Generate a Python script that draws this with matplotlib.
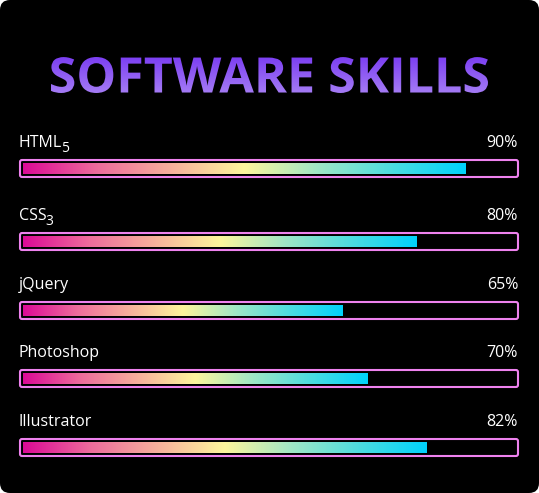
import matplotlib.pyplot as plt
import numpy as np
from matplotlib.patches import FancyBboxPatch, PathPatch
from matplotlib.textpath import TextPath
from matplotlib.font_manager import FontProperties
from matplotlib.colors import LinearSegmentedColormap
from matplotlib.transforms import Affine2D

plt.rcParams['font.family'] = ['Open Sans', 'DejaVu Sans']

title = 'SOFTWARE SKILLS'
skills = ['HTML', 'CSS', 'jQuery', 'Photoshop', 'Illustrator']
subscripts = ['5', '3', '', '', '']
percents = [90, 80, 65, 70, 82]
bar_tops = [160, 233, 302, 370, 439]

W, H = 539, 493
fig = plt.figure(figsize=(W / 100, H / 100), dpi=100)
fig.patch.set_facecolor('white')
ax = fig.add_axes([0, 0, 1, 1])
ax.set_xlim(0, W)
ax.set_ylim(H, 0)
ax.axis('off')

# black card with rounded corners
ax.add_patch(FancyBboxPatch((0, 0), W, H, boxstyle='round,pad=0,rounding_size=10',
                            facecolor='black', edgecolor='none', zorder=0))

# gradient title, fitted into its box
fp = FontProperties(family='Open Sans', weight='bold')
tp = TextPath((0, 0), title, size=50, prop=fp)
ext = tp.get_extents()
x0, x1, y0, y1 = 51, 488, 57, 93
tr = Affine2D().translate(-ext.x0, -ext.y0).scale((x1 - x0) / ext.width, -(y1 - y0) / ext.height) \
    .translate(x0, y1)
tpath = tr.transform_path(tp)
title_cmap = LinearSegmentedColormap.from_list('title', ['#7a3cf2', '#a67ef5'])
grad_v = np.linspace(0, 1, 64).reshape(-1, 1)
im = ax.imshow(grad_v, cmap=title_cmap, extent=(x0 - 2, x1 + 2, y1 + 2, y0 - 2), aspect='auto', zorder=2)
clip = PathPatch(tpath, facecolor='none', edgecolor='none', transform=ax.transData)
ax.add_patch(clip)
im.set_clip_path(clip)

bar_cmap = LinearSegmentedColormap.from_list('bar', ['#dc0a96', '#ee6c9c', '#f7b09c', '#fdf59c',
                                                     '#9fe6c6', '#4ddce0', '#00d2fc'])
grad_h = np.linspace(0, 1, 256).reshape(1, -1)

left, right = 20, 518
fill_left, fill_full = 22.5, 492
bar_h = 17
labels = []
for name, pct, top in zip(skills, percents, bar_tops):
    t = ax.text(19, top - 13, name, color='white', fontsize=11.5, ha='left', va='baseline')
    labels.append(t)
    ax.text(518, top - 13, '{}%'.format(pct), color='white', fontsize=11.5, ha='right', va='baseline')
    fill_right = fill_left + fill_full * pct / 100
    ax.imshow(grad_h, cmap=bar_cmap, extent=(fill_left, fill_right, top + bar_h - 3, top + 3),
              aspect='auto', zorder=2, interpolation='bilinear')
    ax.add_patch(FancyBboxPatch((left, top), right - left, bar_h, boxstyle='round,pad=0,rounding_size=2',
                                facecolor='none', edgecolor='#ee82ee', linewidth=1.5, zorder=3))

# subscripts placed right after the label text
fig.canvas.draw()
renderer = fig.canvas.get_renderer()
for t, sub, top in zip(labels, subscripts, bar_tops):
    if not sub:
        continue
    bb = t.get_window_extent(renderer)
    xd = ax.transData.inverted().transform((bb.x1, 0))[0]
    ax.text(xd - 1.5, top - 8, sub, color='white', fontsize=10, ha='left', va='baseline')

ax.set_xlim(0, W)
ax.set_ylim(H, 0)
fig.savefig('out.png', dpi=100, facecolor='white')
